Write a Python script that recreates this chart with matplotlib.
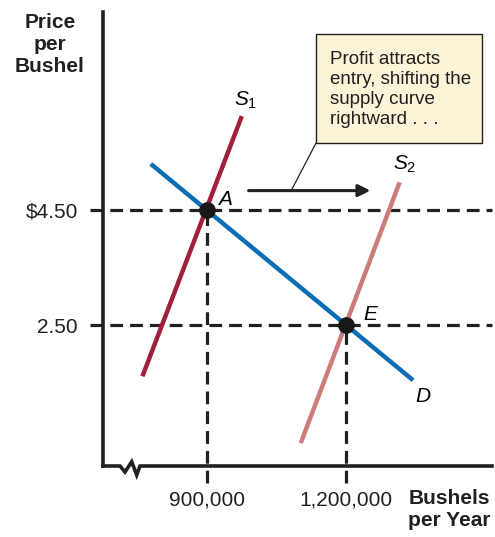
import matplotlib.pyplot as plt
from matplotlib.patches import Rectangle

plt.rcParams['font.family'] = ['Liberation Sans', 'DejaVu Sans']
plt.rcParams['mathtext.fontset'] = 'custom'
plt.rcParams['mathtext.rm'] = 'Liberation Sans'
plt.rcParams['mathtext.it'] = 'Liberation Sans:italic'

# Data (quantity in bushels per year, price per bushel)
s1_q = [761000, 975000]
s1_p = [1.61, 6.13]
s2_q = [1102000, 1315000]
s2_p = [0.45, 4.98]
d_q = [779000, 1344000]
d_p = [5.30, 1.54]
eq_q = [900000, 1200000]
eq_p = [4.50, 2.50]
x_ticks = [900000, 1200000]
x_ticklabels = ['900,000', '1,200,000']
y_ticks = [2.50, 4.50]
y_ticklabels = ['2.50', r'\$4.50']
note = 'Profit attracts\nentry, shifting the\nsupply curve\nrightward . . .'

xmin, xmax = 676000, 1514000
ymin, ymax = 0.05, 7.94
ink = '#231f20'

W, H = 495, 537
fig = plt.figure(figsize=(W / 100, H / 100), dpi=100)
ax = fig.add_axes([103 / W, (H - 466) / H, (492 - 103) / W, (466 - 12) / H])
ax.set_xlim(xmin, xmax)
ax.set_ylim(ymin, ymax)

for side in ['top', 'right', 'bottom']:
    ax.spines[side].set_visible(False)
ax.spines['left'].set_linewidth(2.6)
ax.spines['left'].set_color(ink)

# x axis with break (offsets in pixels)
dq = (xmax - xmin) / 389
dp = (ymax - ymin) / 454
zx = [0, 17, 22, 28.7, 33.7, 37, 389]
zy = [0, 0, -6, 4.3, -9, -4, -4]
ax.plot([xmin + v * dq for v in zx[:6]] + [xmin + 37 * dq, xmax],
        [ymin + v * dp for v in zy[:5]] + [ymin, ymin, ymin],
        color=ink, lw=2.6, clip_on=False, solid_joinstyle='miter', zorder=5)

ax.set_xticks(x_ticks)
ax.set_xticklabels(x_ticklabels, fontsize=15)
ax.set_yticks(y_ticks)
ax.set_yticklabels(y_ticklabels, fontsize=15)
ax.tick_params(axis='both', length=0, colors=ink)
ax.tick_params(axis='x', pad=18)
ax.tick_params(axis='y', pad=18)

# dashed guides
for q, p in zip(eq_q, eq_p):
    ax.plot([xmin - 13 * dq, xmax], [p, p], color=ink, lw=2.3, dashes=(4, 2.2),
            clip_on=False, zorder=2)
    ax.plot([q, q], [ymin - 17 * dp, p], color=ink, lw=2.3, dashes=(4, 2.2),
            clip_on=False, zorder=2)

ax.plot(s1_q, s1_p, color='#a0203b', lw=3.2, solid_capstyle='butt', zorder=3)
ax.plot(s2_q, s2_p, color='#cc7b7b', lw=3.2, solid_capstyle='butt', zorder=3)
ax.plot(d_q, d_p, color='#0b6eb5', lw=3.2, solid_capstyle='butt', zorder=3)
ax.plot(eq_q, eq_p, 'o', color='#1a1718', ms=11, zorder=4)

ax.text(984000, 6.40, r'$\mathit{S}_{1}$', fontsize=15, ha='center', va='center')
ax.text(1326000, 5.30, r'$\mathit{S}_{2}$', fontsize=15, ha='center', va='center')
ax.text(939400, 4.69, 'A', fontsize=15, style='italic', ha='center', va='center')
ax.text(1251700, 2.69, 'E', fontsize=15, style='italic', ha='center', va='center')
ax.text(1365900, 1.265, 'D', fontsize=15, style='italic', ha='center', va='center')

# arrow and callout
ax.annotate('', xy=(1252000, 4.836), xytext=(989600, 4.836),
            arrowprops=dict(arrowstyle='-|>', color=ink, lw=2.2,
                            mutation_scale=18, shrinkA=0, shrinkB=0))
ax.plot([1081500, 1135400], [4.836, 5.67], color=ink, lw=0.9)
ax.add_patch(Rectangle((1135400, 5.67), 1492300 - 1135400, 7.556 - 5.67,
                       facecolor='#fbf4d9', edgecolor=ink, lw=1.0,
                       clip_on=False, zorder=5))
ax.text(1166000, 7.27, note, fontsize=13.5, va='top', ha='left',
        linespacing=1.25, color=ink, zorder=6)

fig.text(50 / W, 1 - 44 / H, 'Price\nper\nBushel', fontsize=15, fontweight='bold',
         ha='center', va='center', linespacing=1.2, color=ink)
fig.text(490 / W, 1 - 509 / H, 'Bushels\nper Year', fontsize=15, fontweight='bold',
         ha='right', va='center', linespacing=1.2, color=ink)

fig.savefig('out.png', dpi=100)
